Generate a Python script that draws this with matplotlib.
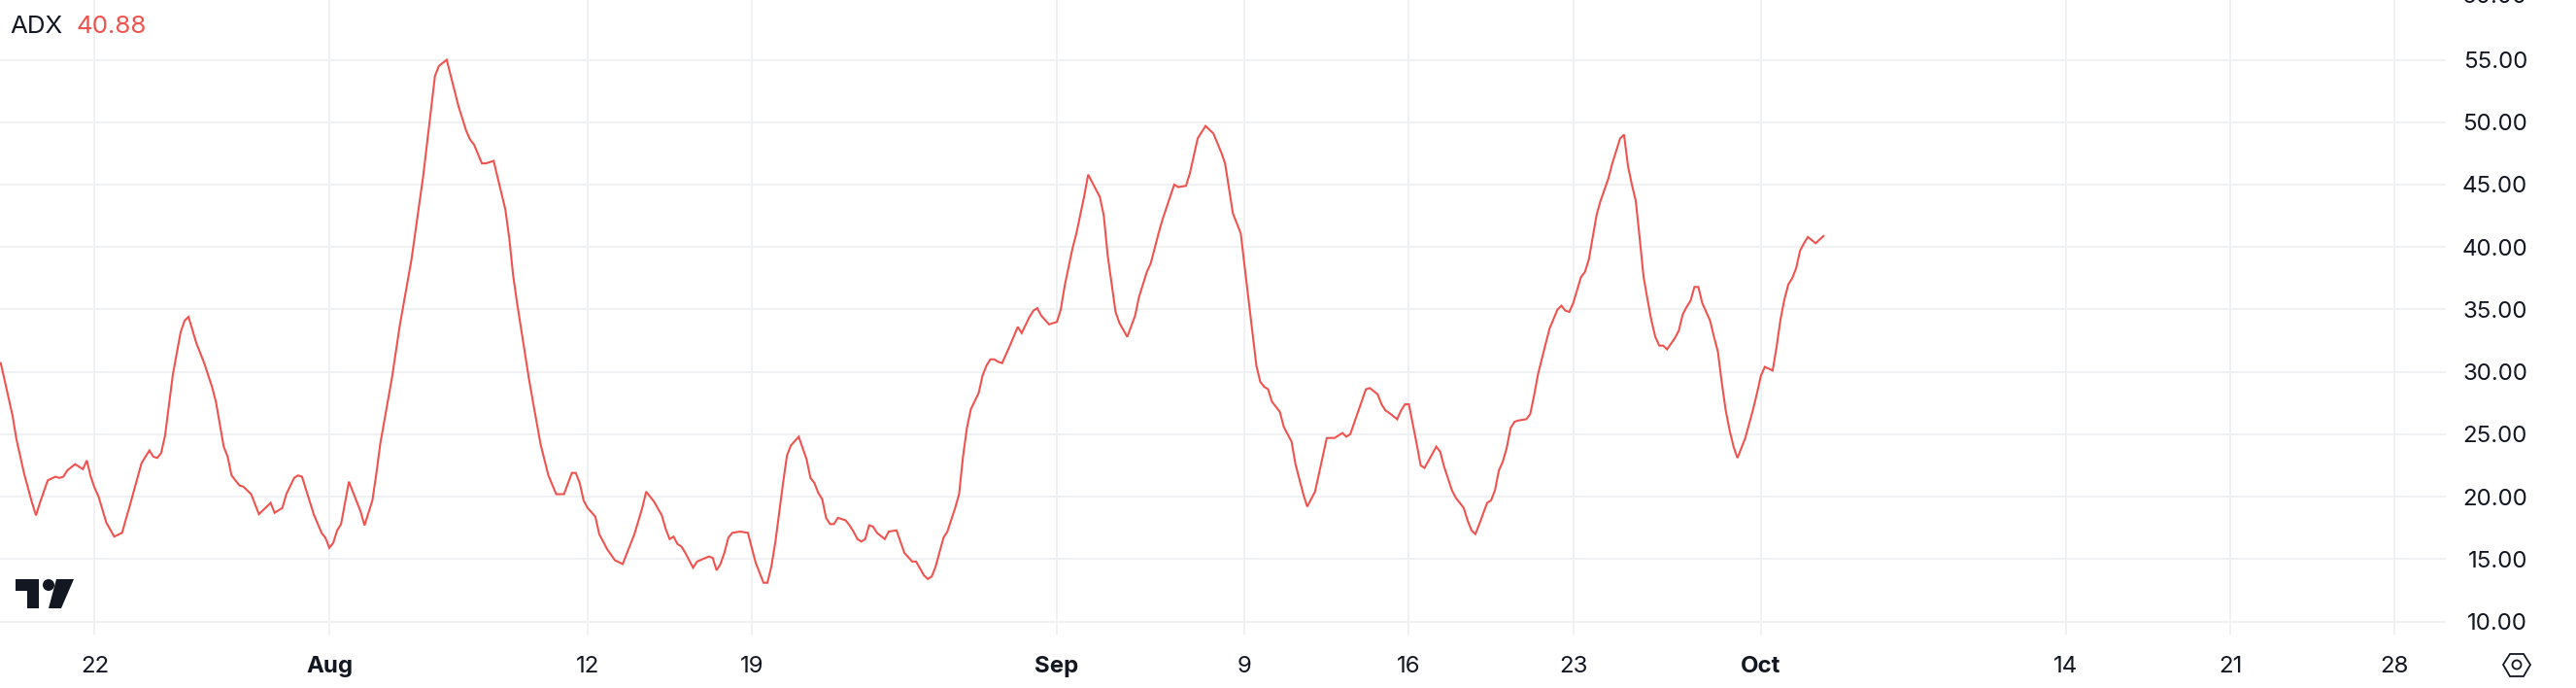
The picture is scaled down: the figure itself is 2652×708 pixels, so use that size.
import matplotlib
matplotlib.use('Agg')
import matplotlib.pyplot as plt
from matplotlib.patches import Polygon, Circle

# 4h bars counted from 1 Aug
bars = [-84, -81, -80, -78, -76, -75, -74, -72, -70, -69, -68, -67, -65, -63, -62, -61, -60, -59, -57, -55,
        -53, -51, -48, -46, -45, -44, -43, -42, -40, -38, -37, -36, -34, -32, -30, -29, -27, -26, -25, -23,
        -22, -20, -18, -15, -14, -12, -11, -9, -8, -7, -4, -2, -1, 0, 1, 2, 3, 5, 8, 9,
        11, 12, 13, 16, 18, 21, 24, 27, 28, 30, 33, 35, 36, 37, 39, 40, 42, 45, 46, 47,
        48, 51, 52, 54, 56, 58, 60, 62, 63, 64, 65, 66, 68, 69, 71, 73, 75, 78, 80, 81,
        83, 85, 86, 87, 88, 89, 90, 91, 93, 94, 97, 98, 99, 100, 101, 102, 103, 105, 107, 109,
        111, 112, 113, 114, 116, 117, 118, 120, 122, 123, 124, 125, 126, 127, 128, 129, 130, 132, 133, 134,
        135, 136, 137, 138, 139, 140, 142, 143, 145, 147, 149, 150, 152, 153, 154, 155, 157, 158, 160, 161,
        162, 163, 164, 166, 167, 168, 169, 170, 171, 172, 174, 176, 177, 179, 180, 181, 182, 184, 186, 187,
        188, 190, 191, 193, 194, 196, 197, 198, 199, 201, 202, 204, 206, 207, 209, 210, 212, 213, 216, 217,
        219, 220, 222, 224, 226, 228, 229, 231, 233, 235, 236, 237, 238, 239, 240, 241, 243, 244, 246, 247,
        249, 250, 252, 255, 257, 259, 260, 261, 263, 265, 266, 268, 269, 270, 271, 273, 274, 275, 276, 278,
        279, 280, 283, 284, 285, 287, 288, 290, 291, 292, 293, 294, 296, 297, 298, 299, 300, 301, 302, 303,
        304, 306, 307, 308, 309, 311, 312, 314, 315, 316, 317, 318, 320, 321, 322, 324, 325, 327, 328, 330,
        331, 332, 333, 334, 335, 336, 337, 338, 339, 340, 341, 342, 344, 345, 346, 347, 348, 349, 350, 351,
        353, 354, 355, 356, 357, 358, 359, 360, 362, 364, 365, 366, 367, 369, 370, 371, 372, 373, 374, 375,
        376, 377, 378, 380, 381, 382]
adx = [30.7, 26.5, 24.6, 21.8, 19.5, 18.5, 19.5, 21.3, 21.6, 21.5, 21.6, 22.1, 22.6, 22.2, 22.9, 21.6, 20.7, 20.0, 17.9, 16.8,
       17.1, 19.3, 22.7, 23.7, 23.2, 23.1, 23.5, 24.9, 29.8, 33.2, 34.1, 34.4, 32.3, 30.7, 28.8, 27.6, 24.0, 23.2, 21.7, 20.9,
       20.8, 20.2, 18.6, 19.5, 18.7, 19.1, 20.2, 21.5, 21.7, 21.6, 18.6, 17.1, 16.7, 15.9, 16.3, 17.3, 17.8, 21.2, 18.8, 17.7,
       19.7, 21.8, 24.2, 29.5, 33.7, 39.0, 45.7, 53.7, 54.5, 55.0, 51.3, 49.3, 48.6, 48.2, 46.7, 46.7, 46.9, 43.0, 40.7, 37.7,
       35.5, 29.5, 27.7, 24.2, 21.7, 20.2, 20.2, 21.9, 21.9, 21.1, 19.7, 19.1, 18.4, 17.0, 15.8, 14.9, 14.6, 17.0, 19.1, 20.4,
       19.6, 18.5, 17.4, 16.6, 16.8, 16.2, 16.0, 15.5, 14.3, 14.8, 15.2, 15.1, 14.1, 14.6, 15.5, 16.7, 17.1, 17.2, 17.1, 14.7,
       13.1, 13.1, 14.4, 16.3, 21.1, 23.3, 24.1, 24.8, 23.0, 21.5, 21.1, 20.3, 19.8, 18.3, 17.8, 17.8, 18.3, 18.1, 17.7, 17.2,
       16.6, 16.4, 16.6, 17.7, 17.6, 17.1, 16.6, 17.2, 17.3, 15.5, 14.8, 14.8, 13.7, 13.4, 13.6, 14.4, 16.7, 17.2, 19.1, 20.2,
       23.2, 25.5, 27.0, 28.3, 29.7, 30.5, 31.0, 31.0, 30.8, 30.7, 32.1, 33.6, 33.1, 34.4, 34.9, 35.1, 34.5, 33.8, 34.0, 35.0,
       36.9, 39.9, 41.1, 44.1, 45.8, 44.6, 44.0, 42.5, 39.3, 34.8, 33.9, 32.8, 34.5, 36.0, 38.0, 38.7, 41.1, 42.2, 45.0, 44.8,
       44.9, 45.9, 48.7, 49.7, 49.1, 47.6, 46.7, 42.7, 41.1, 35.8, 33.2, 30.5, 29.2, 28.8, 28.6, 27.6, 26.8, 25.6, 24.4, 22.6,
       20.2, 19.2, 20.4, 24.7, 24.7, 25.1, 24.8, 25.0, 26.8, 28.6, 28.7, 28.2, 27.4, 26.9, 26.7, 26.2, 26.9, 27.4, 27.4, 24.2,
       22.5, 22.3, 24.0, 23.6, 22.4, 20.5, 19.9, 19.1, 18.1, 17.3, 17.0, 17.8, 19.5, 19.7, 20.5, 22.1, 22.8, 23.9, 25.5, 26.0,
       26.1, 26.2, 26.6, 28.1, 29.8, 32.3, 33.5, 35.0, 35.3, 34.9, 34.8, 35.5, 37.6, 38.0, 39.0, 42.6, 43.7, 45.5, 46.7, 48.7,
       49.0, 46.5, 45.0, 43.7, 40.7, 37.6, 35.8, 34.1, 32.8, 32.1, 32.1, 31.8, 32.7, 33.3, 34.6, 35.2, 35.7, 36.8, 36.8, 35.5,
       34.1, 32.8, 31.6, 29.1, 26.9, 25.3, 24.0, 23.1, 24.7, 27.0, 28.3, 29.7, 30.4, 30.1, 32.0, 34.2, 35.8, 37.0, 37.5, 38.3,
       39.7, 40.3, 40.8, 40.3, 40.6, 40.88]

date_ticks = [-60, 0, 66, 108, 186, 234, 276, 318, 366, 444, 486, 528]
date_labels = ['22', 'Aug', '12', '19', 'Sep', '9', '16', '23', 'Oct', '14', '21', '28']
month_labels = ['Aug', 'Sep', 'Oct']
level_ticks = [10, 15, 20, 25, 30, 35, 40, 45, 50, 55]

RED = '#EF5350'
INK = '#131722'
GRID = '#F0F1F3'
W, H = 2652, 708

plt.rcParams['font.family'] = ['Inter', 'DejaVu Sans']

fig = plt.figure(figsize=(W / 100, H / 100), dpi=100, facecolor='white')
ax = fig.add_axes([0, (H - 653) / H, 2518 / W, 653 / H])
ax.set_xlim(-84.2, 541.1)
ax.set_ylim(8.95, 59.79)
for s in ax.spines.values():
    s.set_visible(False)

ax.grid(True, color=GRID, linewidth=1.44)
ax.set_axisbelow(True)
ax.plot(bars, adx, color=RED, linewidth=1.5, solid_joinstyle='miter', clip_on=True)

ax.set_xticks(date_ticks)
ax.set_xticklabels(date_labels, fontsize=17.3, color=INK)
for t in ax.get_xticklabels():
    if t.get_text() in month_labels:
        t.set_fontweight('bold')
ax.tick_params(axis='x', length=0, pad=15.5)

ax.yaxis.tick_right()
ax.set_yticks(level_ticks)
ax.set_yticklabels([f'{v:.2f}' for v in level_ticks], fontsize=17.3, color=INK, ha='right')
ax.tick_params(axis='y', length=0, pad=60.5)
# top label is cut by the edge of the picture, same as the original
ax.text(2602 / 2518, 60, '60.00', transform=ax.get_yaxis_transform(), fontsize=17.3, color=INK,
        ha='right', va='center', clip_on=False)

# overlay in pixels for legend, logo and settings icon
over = fig.add_axes([0, 0, 1, 1], facecolor='none')
over.set_xlim(0, W)
over.set_ylim(H, 0)
over.axis('off')
over.text(10, 28, 'ADX', fontsize=18.7, color=INK, ha='left', va='center')
over.text(78.5, 28, '40.88', fontsize=18.7, color=RED, ha='left', va='center')

over.add_patch(Polygon([(16, 596), (40, 596), (40, 626), (28, 626), (28, 608), (16, 608)], color=INK, lw=0))
over.add_patch(Circle((50, 602), 6, color=INK, lw=0))
over.add_patch(Polygon([(58, 596), (76, 596), (63, 626), (50, 626)], color=INK, lw=0))

over.add_patch(Polygon([(2577, 684), (2584, 673), (2598, 673), (2605, 684), (2598, 696), (2584, 696)],
                       fill=False, edgecolor=INK, lw=1.3))
over.add_patch(Circle((2591, 684), 4.5, fill=False, edgecolor=INK, lw=1.3))

fig.savefig('out.png', dpi=100)
